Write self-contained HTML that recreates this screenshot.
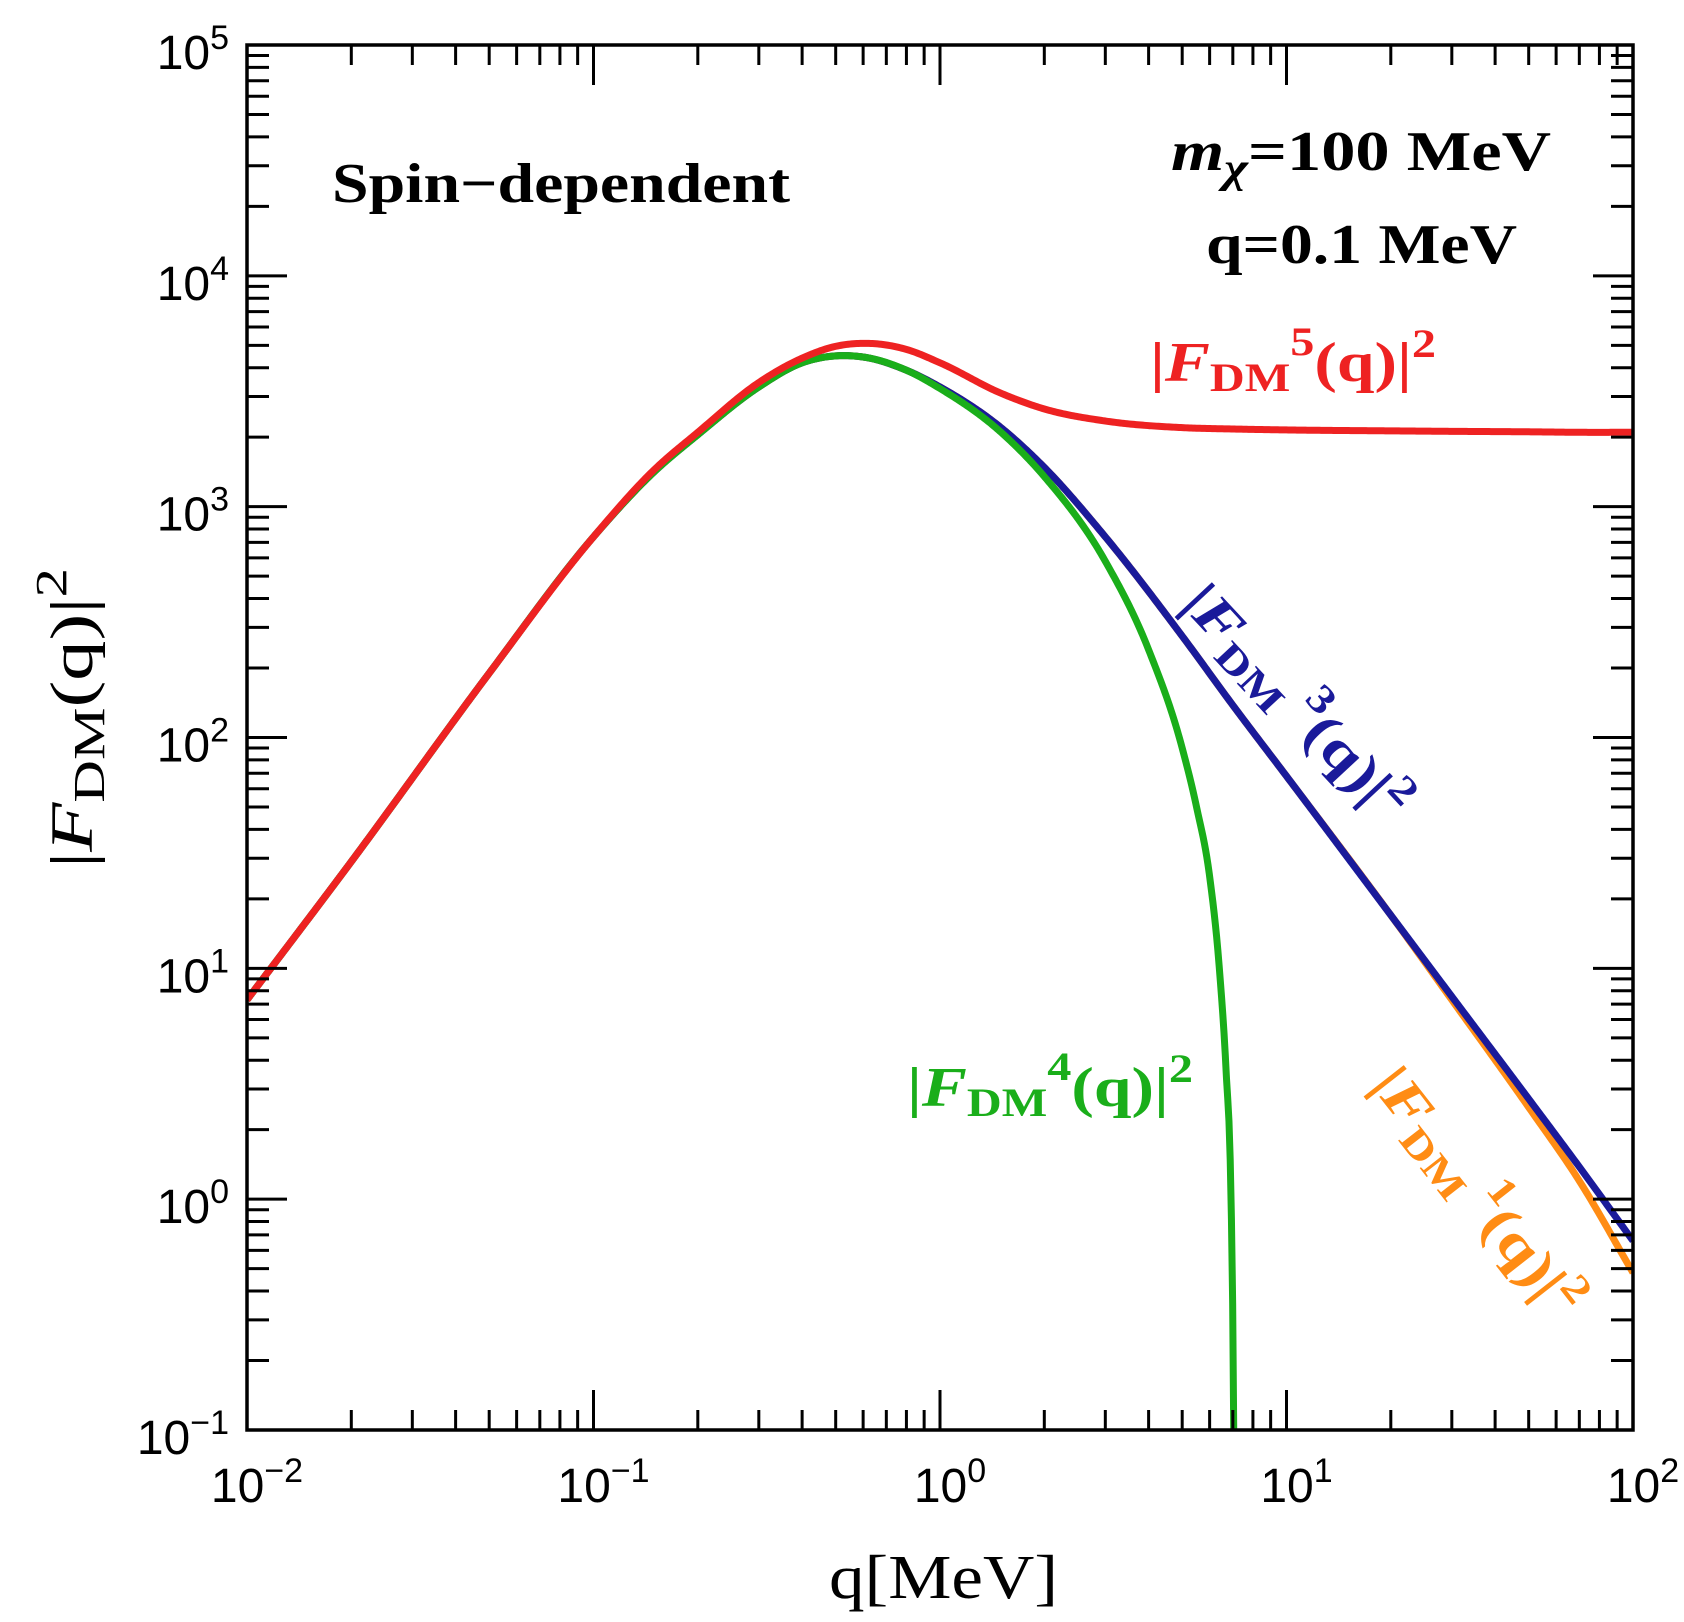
<!DOCTYPE html>
<html><head><meta charset="utf-8"><style>
html,body{margin:0;padding:0;background:#fff;}
svg{display:block;}
</style></head><body>
<svg id="chart" width="1684" height="1622" viewBox="0 0 1684 1622" xmlns="http://www.w3.org/2000/svg">
<g id="curves"></g>
<g id="axes"></g>
<text font-family="'Liberation Serif', serif" x="332" y="202" font-size="56" font-weight="bold" textLength="458" lengthAdjust="spacingAndGlyphs">Spin−dependent</text>
<text font-family="'Liberation Serif', serif" x="1171" y="170" font-size="56" font-weight="bold" textLength="380" lengthAdjust="spacingAndGlyphs"><tspan font-style="italic">m</tspan><tspan font-style="italic" font-size="42" dy="12">χ</tspan><tspan dy="-12">=100 MeV</tspan></text>
<text font-family="'Liberation Serif', serif" x="1206" y="263" font-size="56" font-weight="bold" textLength="311" lengthAdjust="spacingAndGlyphs">q=0.1 MeV</text>
<text font-family="'Liberation Serif', serif" x="1150" y="381" font-size="56" font-weight="bold" fill="#ee2222" textLength="286" lengthAdjust="spacingAndGlyphs">|<tspan font-style="italic">F</tspan><tspan font-size="40" dy="10">DM</tspan><tspan font-size="40" dy="-36">5</tspan><tspan dy="26">(q)|</tspan><tspan font-size="40" dy="-24">2</tspan></text>
<text font-family="'Liberation Serif', serif" x="907" y="1106" font-size="56" font-weight="bold" fill="#1aae1a" textLength="286" lengthAdjust="spacingAndGlyphs">|<tspan font-style="italic">F</tspan><tspan font-size="40" dy="10">DM</tspan><tspan font-size="40" dy="-36">4</tspan><tspan dy="26">(q)|</tspan><tspan font-size="40" dy="-24">2</tspan></text>
<text font-family="'Liberation Serif', serif" font-weight="bold" transform="translate(1180,605) rotate(47)" x="0" y="0" font-size="56" fill="#1a1a9a" textLength="300" lengthAdjust="spacingAndGlyphs">|<tspan font-style="italic">F</tspan><tspan font-size="40" dy="12">DM</tspan><tspan font-size="40" dy="-38"> 3</tspan><tspan dy="26">(q)|</tspan><tspan font-size="40" dy="-24">2</tspan></text>
<text font-family="'Liberation Serif', serif" font-weight="bold" transform="translate(1370,1085) rotate(52)" x="0" y="0" font-size="56" fill="#ff8c14" textLength="300" lengthAdjust="spacingAndGlyphs">|<tspan font-style="italic">F</tspan><tspan font-size="40" dy="12">DM</tspan><tspan font-size="40" dy="-38"> 1</tspan><tspan dy="26">(q)|</tspan><tspan font-size="40" dy="-24">2</tspan></text>
<text font-family="'Liberation Serif', serif" transform="translate(92,868) rotate(-90)" x="0" y="0" font-size="60" textLength="300" lengthAdjust="spacingAndGlyphs">|<tspan font-style="italic">F</tspan><tspan font-size="44" dy="12">DM</tspan><tspan dy="-12">(q)|</tspan><tspan font-size="44" dy="-26">2</tspan></text>
<text font-family="'Liberation Serif', serif" x="829" y="1598" font-size="62" textLength="229" lengthAdjust="spacingAndGlyphs">q[MeV]</text>
</svg>
<script>
// data
const qGrid = [0.01,0.02,0.05,0.1,0.15,0.2,0.3,0.4,0.5,0.6,0.8,1,1.5,2,3,5,7,10,20,30,50,70,100];
const redVals = [7.3,29,190,740,1450,2100,3450,4400,4950,5100,4800,4200,3100,2650,2350,2200,2170,2150,2130,2120,2110,2100,2100];
const blueVals = [7.3,29,190,740,1420,2050,3300,4200,4500,4450,3900,3300,2200,1480,740,275,138,68,17,7.55,2.72,1.38,0.66];
const orangeVals = [7.3,29,190,740,1420,2050,3300,4200,4500,4450,3900,3300,2200,1480,740,275,138,68,17,7.3,2.5,1.2,0.48];
const greenQ = [0.01,0.02,0.05,0.1,0.15,0.2,0.3,0.4,0.5,0.6,0.8,1,1.5,2,3,4,5,5.5,6,6.4,6.7,6.9,7.0,7.05];
const greenVals = [7.3,29,190,740,1420,2050,3300,4200,4500,4450,3900,3250,2100,1350,580,240,90,50,25,10,3.5,1.2,0.3,0.08];
const xTicks = [-2,-1,0,1,2];
const yTicks = [-1,0,1,2,3,4,5];

const X0=247,X1=1633,Y0=1430,Y1=45;
const xMin=-2,xMax=2,yMin=-1,yMax=5;
function xs(q){return X0+(Math.log10(q)-xMin)/(xMax-xMin)*(X1-X0);}
function ys(v){return Y0-(Math.log10(v)-yMin)/(yMax-yMin)*(Y0-Y1);}
const NS="http://www.w3.org/2000/svg";

function spline(xa,ya){
  const n=xa.length,d=[],h=[],m=new Array(n);
  for(let i=0;i<n-1;i++){h.push(xa[i+1]-xa[i]);d.push((ya[i+1]-ya[i])/h[i]);}
  m[0]=d[0];m[n-1]=d[n-2];
  for(let i=1;i<n-1;i++){m[i]=(d[i-1]*h[i]+d[i]*h[i-1])/(h[i-1]+h[i]);}
  return function(x){let i=0;while(i<n-2&&x>xa[i+1])i++;
    const hh=h[i],t=(x-xa[i])/hh,t2=t*t,t3=t2*t;
    return (2*t3-3*t2+1)*ya[i]+(t3-2*t2+t)*hh*m[i]+(-2*t3+3*t2)*ya[i+1]+(t3-t2)*hh*m[i+1];};
}
function curvePath(qs,vals){
  const lx=qs.map(Math.log10),ly=vals.map(Math.log10),f=spline(lx,ly);
  const a=lx[0],b=lx[lx.length-1],N=800;let d="";
  for(let k=0;k<=N;k++){const x=a+(b-a)*k/N;const q=Math.pow(10,x),v=Math.pow(10,f(x));
    d+=(k?"L":"M")+xs(q).toFixed(2)+","+ys(v).toFixed(2);}
  return d;
}
const curves=document.getElementById('curves');
const defs=document.createElementNS(NS,'clipPath');defs.setAttribute('id','clip');
const cr=document.createElementNS(NS,'rect');cr.setAttribute('x',X0);cr.setAttribute('y',Y1);cr.setAttribute('width',X1-X0);cr.setAttribute('height',Y0-Y1);
defs.appendChild(cr);curves.appendChild(defs);curves.setAttribute('clip-path','url(#clip)');
function addCurve(name,qs,vals,color){
  const p=document.createElementNS(NS,'path');
  
  
  p.setAttribute('d',curvePath(qs,vals));p.setAttribute('fill','none');p.setAttribute('stroke',color);
  p.setAttribute('stroke-width','7');p.setAttribute('stroke-linejoin','round');
  curves.appendChild(p);
}
addCurve('curve-fdm1',qGrid,orangeVals,'#ff8c14');
addCurve('curve-fdm3',qGrid,blueVals,'#1a1a9a');
addCurve('curve-fdm4',greenQ,greenVals,'#1aae1a');
addCurve('curve-fdm5',qGrid,redVals,'#ee2222');

const axes=document.getElementById('axes');
function line(x1,y1,x2,y2,name){const l=document.createElementNS(NS,'line');
  
  
  l.setAttribute('x1',x1);l.setAttribute('y1',y1);l.setAttribute('x2',x2);l.setAttribute('y2',y2);
  l.setAttribute('stroke','#000');l.setAttribute('stroke-width','3');axes.appendChild(l);}
const fr=document.createElementNS(NS,'rect');


fr.setAttribute('x',X0);fr.setAttribute('y',Y1);fr.setAttribute('width',X1-X0);fr.setAttribute('height',Y0-Y1);
fr.setAttribute('fill','none');fr.setAttribute('stroke','#000');fr.setAttribute('stroke-width','3.5');axes.appendChild(fr);
for(let e=xMin;e<=xMax;e++){for(let k=1;k<=9;k++){if(e===xMax&&k>1)break;const q=k*Math.pow(10,e),x=xs(q),L=k===1?40:20;
  line(x,Y0,x,Y0-L,'x-tick');line(x,Y1,x,Y1+L,'x-tick-top');}}
for(let e=yMin;e<=yMax;e++){for(let k=1;k<=9;k++){if(e===yMax&&k>1)break;const v=k*Math.pow(10,e),y=ys(v),L=k===1?40:22;
  line(X0,y,X0+L,y,'y-tick');line(X1,y,X1-L,y,'y-tick-right');}}
function tickLabel(x,y,exp,anchor,name){const t=document.createElementNS(NS,'text');
  
  
  t.setAttribute('font-family',"'Liberation Sans', Arial, sans-serif");t.setAttribute('font-size','48');
  t.setAttribute('x',x);t.setAttribute('y',y);t.setAttribute('text-anchor',anchor);
  const s=exp<0?'\u2212'+(-exp):String(exp);
  t.innerHTML='10<tspan font-size="34" dy="-20">'+s+'</tspan>';axes.appendChild(t);}
xTicks.forEach(e=>tickLabel(xs(Math.pow(10,e))+10,1502,e,'middle','x-tick-label'));
yTicks.forEach(e=>tickLabel(229,ys(Math.pow(10,e))+24,e,'end','y-tick-label'));
</script>
</body></html>
